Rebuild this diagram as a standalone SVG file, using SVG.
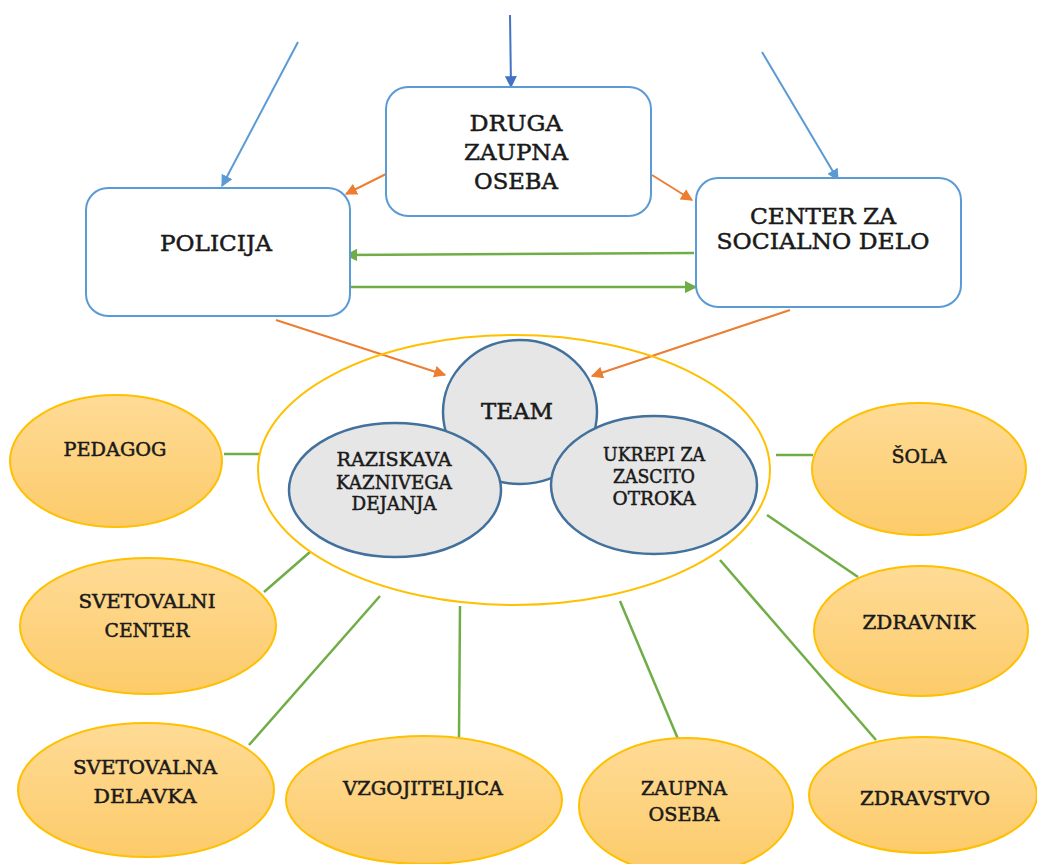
<svg xmlns="http://www.w3.org/2000/svg" width="1037" height="864" viewBox="0 0 1037 864">
<style>
.box{fill:#fff;stroke:#5b9bd5;stroke-width:2}
.outer{fill:url(#og);stroke:#ffc000;stroke-width:2}
.inner{fill:#e7e6e6;stroke:#41719c;stroke-width:2.5}
.ring{fill:none;stroke:#ffc000;stroke-width:2}
.t{font-family:"DejaVu Serif","Liberation Serif",serif;fill:#1a1a1a;stroke:#1a1a1a;stroke-width:0.5;text-anchor:middle}
.big{font-size:23px}
.sm{font-size:19px}
.blue{stroke:#5b9bd5;stroke-width:2;fill:none;marker-end:url(#ab)}
.blue2{stroke:#4472c4;stroke-width:2;fill:none;marker-end:url(#ab2)}
.orange{stroke:#ed7d31;stroke-width:2;fill:none;marker-end:url(#ao)}
.green{stroke:#70ad47;stroke-width:2.5;fill:none}
.garrow{stroke:#70ad47;stroke-width:2.5;fill:none;marker-end:url(#ag)}
</style>
<defs>
<linearGradient id="og" x1="0" y1="0" x2="0" y2="1">
<stop offset="0" stop-color="#ffdb96"/>
<stop offset="1" stop-color="#fccb6a"/>
</linearGradient>
<marker id="ab" viewBox="0 0 10 10" refX="9" refY="5" markerWidth="6" markerHeight="6" orient="auto" markerUnits="strokeWidth"><path d="M0,0L10,5L0,10z" fill="#5b9bd5"/></marker>
<marker id="ab2" viewBox="0 0 10 10" refX="9" refY="5" markerWidth="6" markerHeight="6" orient="auto" markerUnits="strokeWidth"><path d="M0,0L10,5L0,10z" fill="#4472c4"/></marker>
<marker id="ao" viewBox="0 0 10 10" refX="9" refY="5" markerWidth="6" markerHeight="6" orient="auto" markerUnits="strokeWidth"><path d="M0,0L10,5L0,10z" fill="#ed7d31"/></marker>
<marker id="ag" viewBox="0 0 10 10" refX="9" refY="5" markerWidth="5" markerHeight="5" orient="auto" markerUnits="strokeWidth"><path d="M0,0L10,5L0,10z" fill="#70ad47"/></marker>
</defs>
<rect width="1037" height="864" fill="#fff"/>

<g id="connectors">
<line class="blue" x1="298" y1="42" x2="222" y2="186"/>
<line class="blue2" x1="510" y1="15" x2="511" y2="87"/>
<line class="blue" x1="762" y1="52" x2="838" y2="180"/>
<line class="orange" x1="392" y1="171" x2="346" y2="194"/>
<line class="orange" x1="652" y1="175" x2="692" y2="200"/>
<line class="garrow" x1="694" y1="253" x2="346" y2="255"/>
<line class="garrow" x1="351" y1="287" x2="696" y2="287"/>
<line class="orange" x1="276" y1="320" x2="445" y2="375"/>
<line class="orange" x1="790" y1="310" x2="592" y2="376"/>
<line class="green" x1="224" y1="454" x2="259" y2="454"/>
<line class="green" x1="776" y1="455" x2="813" y2="455"/>
<line class="green" x1="264" y1="592" x2="310" y2="552"/>
<line class="green" x1="249" y1="745" x2="380" y2="596"/>
<line class="green" x1="459" y1="737" x2="460" y2="606"/>
<line class="green" x1="678" y1="739" x2="620" y2="601"/>
<line class="green" x1="876" y1="740" x2="720" y2="560"/>
<line class="green" x1="858" y1="577" x2="767" y2="515"/>
</g>

<g id="druga">
<rect class="box" x="386" y="87" width="265" height="129" rx="22"/>
<text class="t big" x="516" y="131" textLength="93" lengthAdjust="spacingAndGlyphs">DRUGA</text>
<text class="t big" x="516" y="160" textLength="104" lengthAdjust="spacingAndGlyphs">ZAUPNA</text>
<text class="t big" x="516" y="189" textLength="84" lengthAdjust="spacingAndGlyphs">OSEBA</text>
</g>
<g id="policija">
<rect class="box" x="86" y="188" width="264" height="128" rx="22"/>
<text class="t big" x="216" y="251" textLength="112" lengthAdjust="spacingAndGlyphs">POLICIJA</text>
</g>
<g id="csd">
<rect class="box" x="696" y="178" width="265" height="129" rx="22"/>
<text class="t big" x="823" y="224" textLength="146" lengthAdjust="spacingAndGlyphs">CENTER ZA</text>
<text class="t big" x="823" y="249" textLength="213" lengthAdjust="spacingAndGlyphs">SOCIALNO DELO</text>
</g>

<g id="ring">
<ellipse class="ring" cx="514" cy="470" rx="256" ry="135"/>
</g>
<g id="team">
<ellipse class="inner" cx="520" cy="412" rx="77" ry="72"/>
<text class="t big" x="517" y="419" textLength="72" lengthAdjust="spacingAndGlyphs">TEAM</text>
</g>
<g id="raziskava">
<ellipse class="inner" cx="395" cy="490" rx="106" ry="67"/>
<text class="t sm" x="394" y="466" textLength="115" lengthAdjust="spacingAndGlyphs">RAZISKAVA</text>
<text class="t sm" x="394" y="489" textLength="116" lengthAdjust="spacingAndGlyphs">KAZNIVEGA</text>
<text class="t sm" x="394" y="510" textLength="85" lengthAdjust="spacingAndGlyphs">DEJANJA</text>
</g>
<g id="ukrepi">
<ellipse class="inner" cx="654" cy="485" rx="103" ry="69"/>
<text class="t sm" x="654" y="461" textLength="102" lengthAdjust="spacingAndGlyphs">UKREPI ZA</text>
<text class="t sm" x="654" y="483" textLength="82" lengthAdjust="spacingAndGlyphs">ZASCITO</text>
<text class="t sm" x="654" y="505" textLength="83" lengthAdjust="spacingAndGlyphs">OTROKA</text>
</g>

<g id="pedagog">
<ellipse class="outer" cx="116" cy="461" rx="106" ry="66"/>
<text class="t sm" x="115" y="456" textLength="103" lengthAdjust="spacingAndGlyphs">PEDAGOG</text>
</g>
<g id="svetovalni">
<ellipse class="outer" cx="148" cy="626" rx="128" ry="68"/>
<text class="t sm" x="147" y="608" textLength="137" lengthAdjust="spacingAndGlyphs">SVETOVALNI</text>
<text class="t sm" x="147" y="637" textLength="85" lengthAdjust="spacingAndGlyphs">CENTER</text>
</g>
<g id="sola">
<ellipse class="outer" cx="919" cy="469" rx="107" ry="66"/>
<text class="t sm" x="919" y="463" textLength="55" lengthAdjust="spacingAndGlyphs">ŠOLA</text>
</g>
<g id="zdravnik">
<ellipse class="outer" cx="921" cy="631" rx="107" ry="65"/>
<text class="t sm" x="919" y="629" textLength="113" lengthAdjust="spacingAndGlyphs">ZDRAVNIK</text>
</g>
<g id="delavka">
<ellipse class="outer" cx="146" cy="790" rx="128" ry="67"/>
<text class="t sm" x="145" y="774" textLength="144" lengthAdjust="spacingAndGlyphs">SVETOVALNA</text>
<text class="t sm" x="145" y="803" textLength="103" lengthAdjust="spacingAndGlyphs">DELAVKA</text>
</g>
<g id="vzgojiteljica">
<ellipse class="outer" cx="424" cy="800" rx="138" ry="64"/>
<text class="t sm" x="423" y="795" textLength="160" lengthAdjust="spacingAndGlyphs">VZGOJITELJICA</text>
</g>
<g id="zaupna">
<ellipse class="outer" cx="686" cy="806" rx="107" ry="68"/>
<text class="t sm" x="684" y="795" textLength="86" lengthAdjust="spacingAndGlyphs">ZAUPNA</text>
<text class="t sm" x="684" y="821" textLength="71" lengthAdjust="spacingAndGlyphs">OSEBA</text>
</g>
<g id="zdravstvo">
<ellipse class="outer" cx="923" cy="795" rx="114" ry="58"/>
<text class="t sm" x="925" y="805" textLength="130" lengthAdjust="spacingAndGlyphs">ZDRAVSTVO</text>
</g>
</svg>
